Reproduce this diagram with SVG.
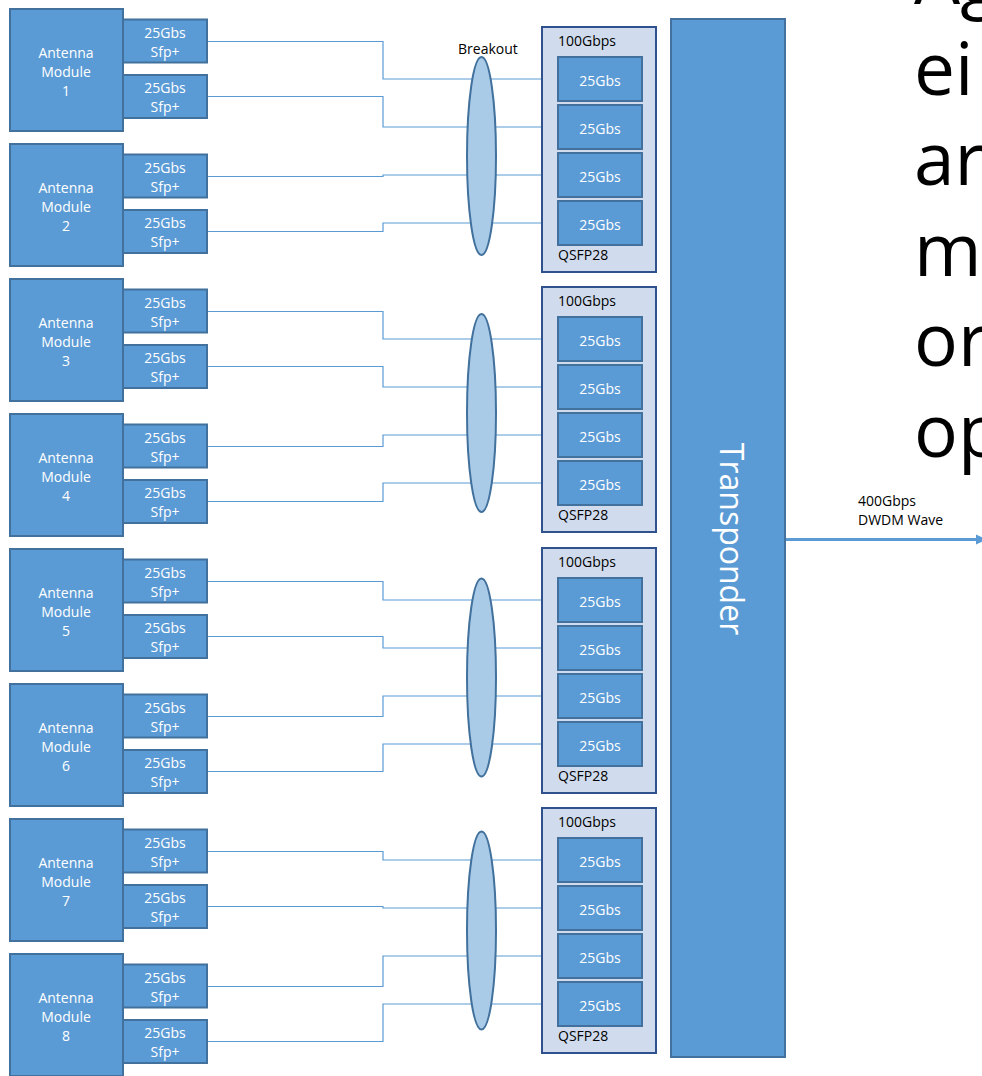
<svg xmlns="http://www.w3.org/2000/svg" width="982" height="1076" viewBox="0 0 982 1076">
<style>
.box{fill:#5B9BD5;stroke:#41719C;stroke-width:2}
.qsfp{fill:#D0DCEE;stroke:#2F528F;stroke-width:2}
.ell{fill:#AACBE8;stroke:#41719C;stroke-width:2}
.wt{font-family:"Open Sans","Liberation Sans",sans-serif;font-size:14px;fill:#FFFFFF;text-anchor:middle}
.bt{font-family:"Open Sans","Liberation Sans",sans-serif;font-size:14px;fill:#000000}
.big{font-family:"Open Sans","Liberation Sans",sans-serif;font-size:73px;fill:#000000}
.conn{fill:none;stroke:#5B9BD5;stroke-width:1.2}
</style>
<defs>
<g id="am">
<rect class="box" x="10" y="0" width="113" height="122"/>
<rect class="box" x="123" y="10.5" width="84" height="43"/>
<rect class="box" x="123" y="66" width="84" height="43"/>
<text class="wt" x="165" y="29">25Gbs</text>
<text class="wt" x="165" y="47.5">Sfp+</text>
<text class="wt" x="165" y="84.3">25Gbs</text>
<text class="wt" x="165" y="102.7">Sfp+</text>
</g>
<g id="qs">
<rect class="qsfp" x="542" y="0" width="114" height="245"/>
<rect class="box" x="558" y="30" width="84" height="44"/>
<rect class="box" x="558" y="78" width="84" height="44"/>
<rect class="box" x="558" y="126" width="84" height="44"/>
<rect class="box" x="558" y="174" width="84" height="44"/>
<text class="wt" x="600" y="59">25Gbs</text>
<text class="wt" x="600" y="107">25Gbs</text>
<text class="wt" x="600" y="155">25Gbs</text>
<text class="wt" x="600" y="203">25Gbs</text>
<text class="bt" x="558" y="19">100Gbps</text>
<text class="bt" x="558" y="233">QSFP28</text>
</g>
</defs>

<g id="connectors">
<polyline class="conn" points="207,41.5 383,41.5 383,79 558,79"/>
<polyline class="conn" points="207,96.5 383,96.5 383,127 558,127"/>
<polyline class="conn" points="207,176.5 383,176.5 383,175 558,175"/>
<polyline class="conn" points="207,231.5 383,231.5 383,223 558,223"/>
<polyline class="conn" points="207,311.5 383,311.5 383,339 558,339"/>
<polyline class="conn" points="207,366.5 383,366.5 383,387 558,387"/>
<polyline class="conn" points="207,446.5 383,446.5 383,435 558,435"/>
<polyline class="conn" points="207,501.5 383,501.5 383,483 558,483"/>
<polyline class="conn" points="207,581.5 383,581.5 383,600 558,600"/>
<polyline class="conn" points="207,636.5 383,636.5 383,648 558,648"/>
<polyline class="conn" points="207,716.5 383,716.5 383,696 558,696"/>
<polyline class="conn" points="207,771.5 383,771.5 383,744 558,744"/>
<polyline class="conn" points="207,851.5 383,851.5 383,860 558,860"/>
<polyline class="conn" points="207,906.5 383,906.5 383,908 558,908"/>
<polyline class="conn" points="207,986.5 383,986.5 383,956 558,956"/>
<polyline class="conn" points="207,1041.5 383,1041.5 383,1004 558,1004"/>
<line x1="785" y1="539.5" x2="977" y2="539.5" stroke="#5B9BD5" stroke-width="3"/>
<polygon points="976,534.5 987,539.5 976,544.5" fill="#5B9BD5"/>
</g>

<g id="antenna1"><use href="#am" transform="translate(0,9)"/><text class="wt" x="66" y="58">Antenna</text><text class="wt" x="66" y="77">Module</text><text class="wt" x="66" y="96">1</text></g>
<g id="antenna2"><use href="#am" transform="translate(0,144)"/><text class="wt" x="66" y="193">Antenna</text><text class="wt" x="66" y="212">Module</text><text class="wt" x="66" y="231">2</text></g>
<g id="antenna3"><use href="#am" transform="translate(0,279)"/><text class="wt" x="66" y="328">Antenna</text><text class="wt" x="66" y="347">Module</text><text class="wt" x="66" y="366">3</text></g>
<g id="antenna4"><use href="#am" transform="translate(0,414)"/><text class="wt" x="66" y="463">Antenna</text><text class="wt" x="66" y="482">Module</text><text class="wt" x="66" y="501">4</text></g>
<g id="antenna5"><use href="#am" transform="translate(0,549)"/><text class="wt" x="66" y="598">Antenna</text><text class="wt" x="66" y="617">Module</text><text class="wt" x="66" y="636">5</text></g>
<g id="antenna6"><use href="#am" transform="translate(0,684)"/><text class="wt" x="66" y="733">Antenna</text><text class="wt" x="66" y="752">Module</text><text class="wt" x="66" y="771">6</text></g>
<g id="antenna7"><use href="#am" transform="translate(0,819)"/><text class="wt" x="66" y="868">Antenna</text><text class="wt" x="66" y="887">Module</text><text class="wt" x="66" y="906">7</text></g>
<g id="antenna8"><use href="#am" transform="translate(0,954)"/><text class="wt" x="66" y="1003">Antenna</text><text class="wt" x="66" y="1022">Module</text><text class="wt" x="66" y="1041">8</text></g>

<g id="breakout1"><ellipse class="ell" cx="481.5" cy="156" rx="14.5" ry="99"/><text class="bt" x="458" y="54">Breakout</text></g>
<g id="breakout2"><ellipse class="ell" cx="481.5" cy="413" rx="14.5" ry="99"/></g>
<g id="breakout3"><ellipse class="ell" cx="481.5" cy="677.5" rx="14.5" ry="99"/></g>
<g id="breakout4"><ellipse class="ell" cx="481.5" cy="930.5" rx="14.5" ry="99"/></g>

<g id="qsfp1"><use href="#qs" transform="translate(0,27)"/></g>
<g id="qsfp2"><use href="#qs" transform="translate(0,287)"/></g>
<g id="qsfp3"><use href="#qs" transform="translate(0,548)"/></g>
<g id="qsfp4"><use href="#qs" transform="translate(0,808)"/></g>

<g id="transponder">
<rect class="box" x="671" y="19" width="114" height="1038"/>
<text transform="translate(719.5,539) rotate(90)" font-family="'Open Sans','Liberation Sans',sans-serif" font-size="32" fill="#FFFFFF" text-anchor="middle">Transponder</text>
</g>

<g id="wave-label">
<text class="bt" x="858" y="506">400Gbps</text>
<text class="bt" x="858" y="525">DWDM Wave</text>
</g>

<g id="side-text">
<text class="big" x="914" y="4">Ag</text>
<text class="big" x="914" y="95">ei</text>
<text class="big" x="914" y="185">ar</text>
<text class="big" x="914" y="276">m</text>
<text class="big" x="914" y="366">or</text>
<text class="big" x="914" y="457">op</text>
</g>
</svg>
